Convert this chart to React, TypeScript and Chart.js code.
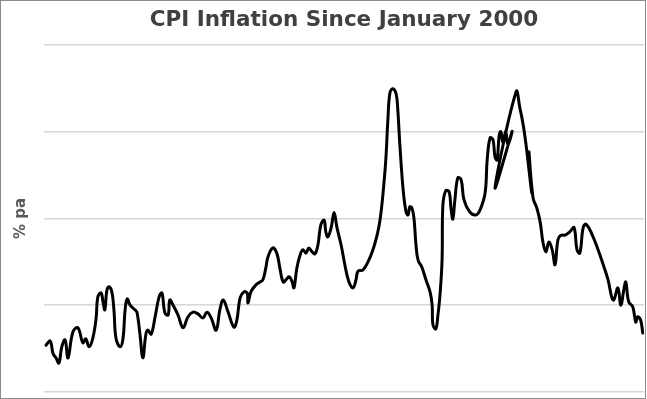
import { useEffect, useRef } from "react";
import { Chart, registerables } from "chart.js";

Chart.register(...registerables);

const chartTitle = "CPI Inflation Since January 2000";
const yAxisTitle = "% pa";

// decimal year of each observation (as plotted, including the out-of-order rows)
const years = [
  2000.05, 2000.15, 2000.22, 2000.29, 2000.36, 2000.43, 2000.51, 2000.58, 2000.70, 2000.82,
  2000.94, 2001.01, 2001.09, 2001.18, 2001.26, 2001.30, 2001.38, 2001.43, 2001.47, 2001.52,
  2001.57, 2001.64, 2001.69, 2001.74, 2001.84, 2001.91, 2001.96, 2002.01, 2002.08, 2002.20,
  2002.25, 2002.32, 2002.39, 2002.46, 2002.51, 2002.59, 2002.68, 2002.78, 2002.85, 2002.92,
  2003.00, 2003.04, 2003.12, 2003.24, 2003.36, 2003.48, 2003.60, 2003.72, 2003.84, 2003.94,
  2004.04, 2004.16, 2004.25, 2004.33, 2004.45, 2004.59, 2004.66, 2004.74, 2004.83, 2004.91,
  2004.93, 2005.00, 2005.12, 2005.22, 2005.29, 2005.36, 2005.41, 2005.53, 2005.63, 2005.70,
  2005.78, 2005.85, 2005.92, 2005.99, 2006.04, 2006.11, 2006.19, 2006.26, 2006.33, 2006.40,
  2006.48, 2006.55, 2006.62, 2006.69, 2006.77, 2006.81, 2006.86, 2006.94, 2007.01, 2007.08,
  2007.18, 2007.27, 2007.37, 2007.47, 2007.54, 2007.59, 2007.71, 2007.83, 2007.95, 2008.05,
  2008.12, 2008.19, 2008.26, 2008.31, 2008.36, 2008.43, 2008.51, 2008.55, 2008.60, 2008.68,
  2008.75, 2008.80, 2008.84, 2008.89, 2008.94, 2008.99, 2009.04, 2009.13, 2009.23, 2009.33,
  2009.38, 2009.40, 2009.47, 2009.52, 2009.57, 2009.62, 2009.64, 2009.71, 2009.79, 2009.84,
  2009.88, 2009.93, 2010.00, 2010.08, 2010.15, 2010.29, 2010.44, 2010.54, 2010.66, 2010.71,
  2010.78, 2010.85, 2010.90, 2010.95, 2011.00, 2011.04, 2011.09, 2011.16, 2011.21, 2011.31,
  2010.90, 2011.41, 2011.50, 2011.58, 2011.65, 2011.72, 2011.79, 2011.72, 2011.82, 2011.91,
  2011.99, 2012.06, 2012.13, 2012.20, 2012.28, 2012.35, 2012.42, 2012.49, 2012.59, 2012.71,
  2012.81, 2012.88, 2012.95, 2013.03, 2013.10, 2013.24, 2013.39, 2013.51, 2013.63, 2013.72,
  2013.77, 2013.87, 2013.94, 2014.02, 2014.06, 2014.13, 2014.23, 2014.30, 2014.35, 2014.42,
  2014.47,
];

// CPI inflation, % pa
const cpi = [
  0.81, 0.88, 0.66, 0.59, 0.50, 0.78, 0.90, 0.59, 1.04, 1.11,
  0.85, 0.92, 0.78, 0.93, 1.28, 1.64, 1.71, 1.54, 1.42, 1.76,
  1.82, 1.73, 1.42, 0.93, 0.78, 0.93, 1.42, 1.61, 1.50, 1.42,
  1.37, 0.99, 0.59, 0.99, 1.07, 1.00, 1.28, 1.64, 1.71, 1.37,
  1.33, 1.59, 1.50, 1.33, 1.11, 1.30, 1.38, 1.35, 1.28, 1.38,
  1.28, 1.07, 1.42, 1.59, 1.38, 1.12, 1.24, 1.63, 1.73, 1.71,
  1.54, 1.73, 1.85, 1.90, 1.94, 2.14, 2.33, 2.49, 2.39, 2.14,
  1.90, 1.94, 1.99, 1.92, 1.80, 2.14, 2.37, 2.46, 2.40, 2.49,
  2.42, 2.39, 2.54, 2.89, 2.97, 2.77, 2.68, 2.84, 3.10, 2.84,
  2.54, 2.20, 1.90, 1.80, 1.94, 2.09, 2.11, 2.25, 2.46, 2.71,
  2.97, 3.41, 4.01, 4.70, 5.17, 5.24, 5.15, 4.88, 4.27, 3.49,
  3.11, 3.06, 3.20, 3.18, 3.01, 2.54, 2.28, 2.16, 1.94, 1.73,
  1.50, 1.16, 1.09, 1.33, 1.68, 2.28, 3.23, 3.48, 3.46, 3.15,
  2.99, 3.32, 3.70, 3.67, 3.32, 3.11, 3.06, 3.15, 3.44, 4.01,
  4.39, 4.36, 4.06, 4.01, 4.44, 4.50, 4.31, 4.50, 4.27, 4.50,
  3.53, 5.19, 4.91, 4.62, 4.27, 3.84, 3.44, 4.15, 3.35, 3.18,
  2.94, 2.58, 2.42, 2.59, 2.46, 2.20, 2.63, 2.71, 2.71, 2.77,
  2.84, 2.46, 2.40, 2.84, 2.90, 2.73, 2.46, 2.21, 1.94, 1.64,
  1.59, 1.80, 1.50, 1.80, 1.90, 1.56, 1.47, 1.21, 1.30, 1.24,
  1.02,
];

const yMin = 0;
const yMax = 6;
const yStep = 1.5;
const xMin = 2000;
const xMax = 2014.5;

export default function App() {
  const ref = useRef<HTMLCanvasElement>(null);

  useEffect(() => {
    document.body.style.margin = "0";
    const canvas = ref.current;
    if (!canvas) return;
    const chart = new Chart(canvas, {
      type: "line",
      data: {
        datasets: [
          {
            data: years.map((x, i) => ({ x, y: cpi[i] })),
            borderColor: "#000000",
            borderWidth: 3,
            tension: 0.4,
            pointRadius: 0,
            pointHoverRadius: 0,
            fill: false,
            borderJoinStyle: "round",
            borderCapStyle: "round",
          },
        ],
      },
      options: {
        animation: false,
        responsive: false,
        maintainAspectRatio: false,
        layout: { padding: { left: 4, right: 1, top: 0, bottom: 6 } },
        plugins: {
          legend: { display: false },
          tooltip: { enabled: false },
          title: {
            display: true,
            fullSize: false,
            text: chartTitle,
            color: "#404040",
            font: { family: "DejaVu Sans", size: 21.5, weight: "bold" },
            padding: { top: 7, bottom: 11 },
          },
        },
        scales: {
          x: {
            type: "linear",
            min: xMin,
            max: xMax,
            display: false,
          },
          y: {
            min: yMin,
            max: yMax,
            ticks: { display: false, stepSize: yStep },
            border: { display: false },
            grid: { color: "#d6d6d6", lineWidth: 1.6, drawTicks: false },
            title: {
              display: true,
              text: yAxisTitle,
              color: "#595959",
              font: { family: "DejaVu Sans", size: 15, weight: "bold" },
              padding: { top: 7, bottom: 14 },
            },
          },
        },
      },
    });
    return () => chart.destroy();
  }, []);

  return (
    <div
      style={{
        position: "absolute",
        left: 0,
        top: 0,
        width: 646,
        height: 399,
        border: "1px solid #8a8a8a",
        boxSizing: "border-box",
        background: "#ffffff",
      }}
    >
      <canvas ref={ref} width={644} height={397} style={{ display: "block" }} />
    </div>
  );
}
